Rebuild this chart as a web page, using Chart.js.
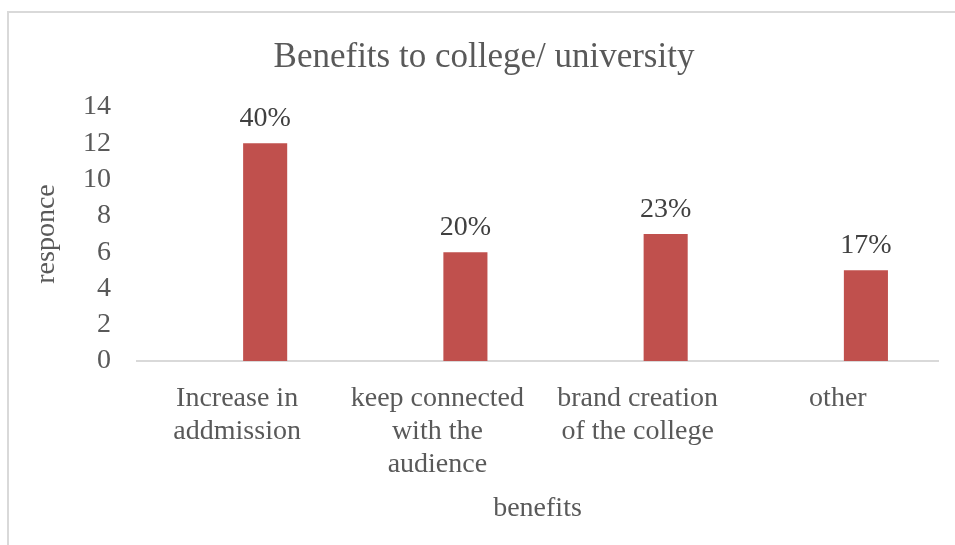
<!DOCTYPE html>
<html lang="en">
<head>
  <meta charset="UTF-8">
  <title>Benefits to college/ university</title>
  <script src="https://cdn.jsdelivr.net/npm/chart.js"></script>
  <style>
    body {
      margin: 0;
      background: #fff;
    }
    .wrap {
      position: relative;
      width: 955px;
      height: 545px;
      overflow: hidden;
    }
    .frame {
      position: absolute;
      left: 7px;
      top: 11px;
      width: 960px;
      height: 560px;
      border-left: 2px solid #d9d9d9;
      border-top: 2px solid #d9d9d9;
    }
    canvas {
      position: absolute;
      left: 0;
      top: 0;
    }
  </style>
</head>
<body>
  <div class="wrap">
    <div class="frame"></div>
    <canvas id="benefitChart" width="955" height="545"></canvas>
  </div>

  <script>
    const categories = [
      ["Increase in", "addmission"],
      ["keep connected", "with the", "audience"],
      ["brand creation", "of the college"],
      ["other"]
    ];
    const spacerSeries = [null, null, null, null]; // empty series, Excel leaves a gap for it
    const responses = [12, 6, 7, 5];
    const percentLabels = ["40%", "20%", "23%", "17%"];
    const yTicks = [0, 2, 4, 6, 8, 10, 12, 14];

    const serif = "'Liberation Serif', 'Times New Roman', serif";
    const textGray = "#595959";

    // percentages above the bars
    const percentPlugin = {
      id: "percentLabels",
      afterDatasetsDraw(chart) {
        const ctx = chart.ctx;
        const meta = chart.getDatasetMeta(1);
        ctx.save();
        ctx.font = "28px " + serif;
        ctx.fillStyle = "#404040";
        ctx.textAlign = "center";
        ctx.textBaseline = "alphabetic";
        meta.data.forEach((bar, i) => {
          ctx.fillText(percentLabels[i], bar.x, bar.y - 17);
        });
        ctx.restore();
      }
    };

    new Chart(document.getElementById("benefitChart"), {
      type: "bar",
      data: {
        labels: categories,
        datasets: [
          {
            label: "",
            data: spacerSeries,
            backgroundColor: "rgba(0,0,0,0)"
          },
          {
            label: "responce",
            data: responses,
            backgroundColor: "#C0504D",
            borderWidth: 0
          }
        ]
      },
      options: {
        responsive: false,
        animation: false,
        categoryPercentage: 0.56,
        barPercentage: 0.786,
        layout: {
          padding: { left: 30, right: 17, top: 0, bottom: 0 }
        },
        plugins: {
          legend: { display: false },
          tooltip: { enabled: false },
          title: {
            display: true,
            text: "Benefits to college/ university",
            color: textGray,
            font: { family: serif, size: 35, weight: "normal" },
            padding: { top: 37, bottom: 28 }
          }
        },
        scales: {
          x: {
            grid: {
              display: false,
              drawTicks: false
            },
            border: { color: "#d9d9d9", width: 2 },
            ticks: {
              color: textGray,
              font: { family: serif, size: 28, lineHeight: 1.18 },
              padding: 21,
              maxRotation: 0,
              autoSkip: false
            },
            title: {
              display: true,
              text: "benefits",
              color: textGray,
              font: { family: serif, size: 28 },
              padding: { top: 0, bottom: 20 }
            },
            afterFit(scale) {
              scale.height = 184;
            }
          },
          y: {
            min: 0,
            max: 14,
            afterBuildTicks(scale) {
              scale.ticks = yTicks.map(v => ({ value: v }));
            },
            grid: {
              display: false,
              drawTicks: false
            },
            border: { display: false },
            ticks: {
              color: textGray,
              font: { family: serif, size: 28 },
              padding: 26,
              autoSkip: false
            },
            title: {
              display: true,
              text: "responce",
              color: textGray,
              font: { family: serif, size: 28 },
              padding: { top: 0, bottom: 0 }
            },
            afterFit(scale) {
              scale.width = 107;
            }
          }
        }
      },
      plugins: [percentPlugin]
    });
  </script>
</body>
</html>
